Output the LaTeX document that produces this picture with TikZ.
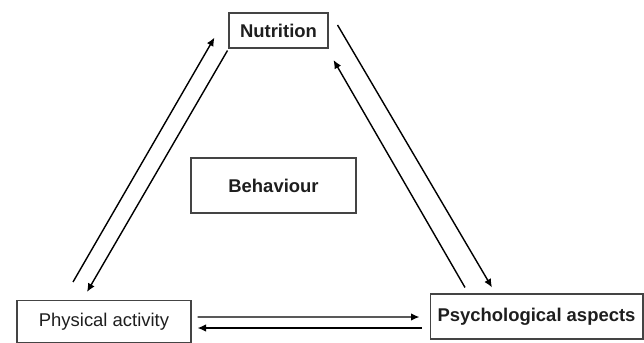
\documentclass[tikz,border=0pt]{standalone}
\usepackage{fontspec}
\setmainfont{Liberation Sans}
\usepackage{tikz}
\usetikzlibrary{calc, arrows.meta, positioning}
\definecolor{boxline}{HTML}{444444}
\definecolor{inktext}{HTML}{1E1E1E}

\begin{document}
\begin{tikzpicture}[
    x=0.02cm, y=-0.02cm,
    factor/.style={draw=boxline, line width=0.6pt, minimum width=#1, inner sep=0pt, text=inktext, font=\fontsize{10.5}{12}\selectfont},
    link/.style={-{Latex[length=1.7mm, width=1.5mm]}, line width=0.8pt, color=black}
]
\useasboundingbox (0,0) rectangle (644,342);

\node[factor=1.98cm, minimum height=0.70cm, font=\fontsize{10.5}{12}\selectfont\bfseries] (nu) at (278.5,30.5) {Nutrition};
\node[factor=3.30cm, minimum height=1.10cm, font=\fontsize{10.5}{12}\selectfont\bfseries] (be) at (273.5,185.5) {Behaviour};
\node[factor=3.48cm, minimum height=0.84cm] (pa) at (104,321.5) {Physical activity};
\node[factor=4.26cm, minimum height=0.90cm, font=\fontsize{10.5}{12}\selectfont\bfseries] (ps) at (536.5,316.5) {Psychological aspects};

\draw[link] ($(pa.north)+(-31,-18)$) -- ($(nu.south west)+(-14,-11)$);
\draw[link] ($(nu.south west)+(-1,2)$) -- ($(pa.north)+(-17,-8)$);
\draw[link] ($(nu.east)+(9,-5.5)$) -- ($(ps.north)+(-44.5,-6)$);
\draw[link] ($(ps.north)+(-71.5,-6)$) -- ($(nu.east)+(5,29.5)$);
\draw[link] ($(pa.east)+(6,-4.5)$) -- ($(ps.west)+(-10,0.5)$);
\draw[link] ($(ps.west)+(-8,11.5)$) -- ($(pa.east)+(6,6.5)$);
\end{tikzpicture}
\end{document}
